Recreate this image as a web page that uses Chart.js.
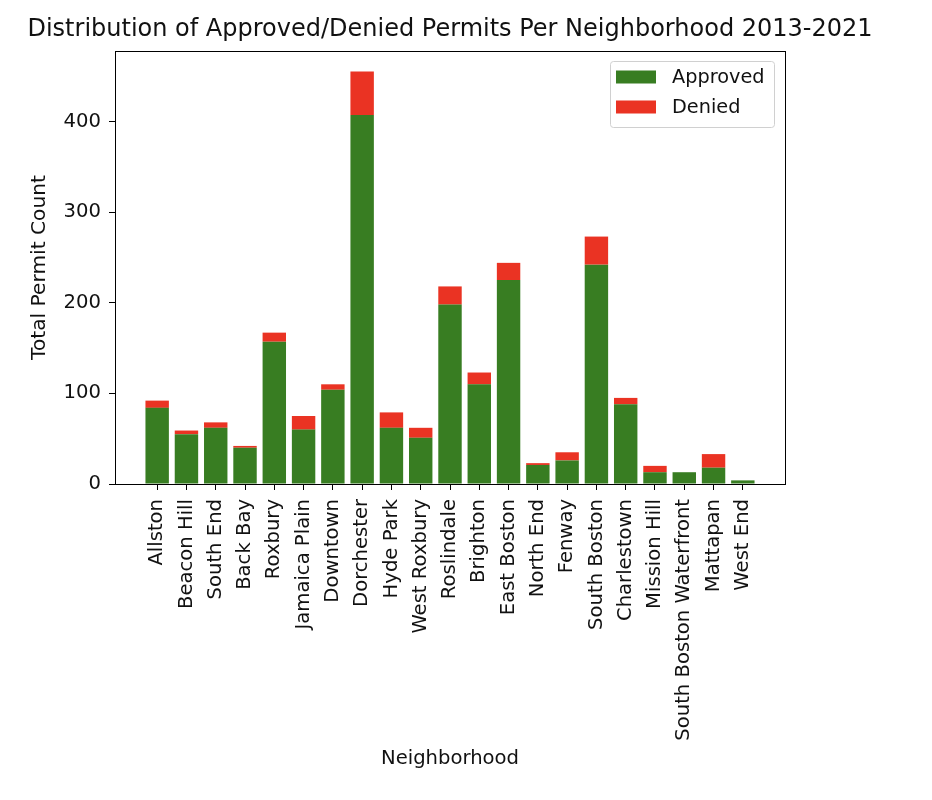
<!DOCTYPE html>
<html><head><meta charset="utf-8">
<script src="https://cdn.jsdelivr.net/npm/chart.js@4"></script>
<style>html,body{margin:0;padding:0;background:#fff}</style>
</head><body>
<canvas id="c" width="932" height="800"></canvas>
<script>
const neighborhoods = ["Allston","Beacon Hill","South End","Back Bay","Roxbury","Jamaica Plain","Downtown","Dorchester","Hyde Park","West Roxbury","Roslindale","Brighton","East Boston","North End","Fenway","South Boston","Charlestown","Mission Hill","South Boston Waterfront","Mattapan","West End"];
const approved = [84,55,62,40,157,60,104,407,62,51,198,110,225,21,26,242,88,13,13,18,4];
const denied   = [8,4,6,2,10,15,6,48,17,11,20,13,19,2,9,31,7,7,0,15,0];
const yTicks = [0,100,200,300,400];
const seriesLabels = ["Approved","Denied"];
const seriesColors = ["#387d22","#ea3323"];
const chartTitle = "Distribution of Approved/Denied Permits Per Neighborhood 2013-2021";

Chart.defaults.font.family = "'DejaVu Sans', sans-serif";
Chart.defaults.color = "#111";

const n = neighborhoods.length;
const maxTotal = Math.max(...approved.map((v,i)=>v+denied[i]));

const framePlugin = {
  id: 'frame',
  afterDraw(chart) {
    const {ctx, chartArea: a} = chart;
    ctx.save();
    // title centred over the axes
    ctx.font = "24px 'DejaVu Sans'";
    ctx.fillStyle = '#111';
    ctx.textAlign = 'center';
    ctx.textBaseline = 'middle';
    ctx.fillText(chartTitle, (a.left + a.right) / 2, a.top - 21);
    ctx.textAlign = 'left';
    // axes frame
    ctx.strokeStyle = '#000';
    ctx.lineWidth = 1;
    ctx.strokeRect(Math.round(a.left)+0.5, Math.round(a.top)+0.5, Math.round(a.right-a.left), Math.round(a.bottom-a.top));
    // legend
    const bx = a.right - 175, by = a.top + 10, bw = 164, bh = 66;
    ctx.fillStyle = 'rgba(255,255,255,0.8)';
    ctx.strokeStyle = '#d0d0d0';
    ctx.beginPath();
    ctx.roundRect(bx+0.5, by+0.5, bw, bh, 3);
    ctx.fill(); ctx.stroke();
    ctx.font = "19.3px 'DejaVu Sans'";
    ctx.textBaseline = 'middle';
    chart.data.datasets.forEach((ds, i) => {
      const y = by + 16 + i*30;
      ctx.fillStyle = ds.backgroundColor;
      ctx.fillRect(bx+6, y-6.5, 40, 13);
      ctx.fillStyle = '#111';
      ctx.fillText(ds.label, bx+62, y+1);
    });
    ctx.restore();
  }
};

new Chart(document.getElementById('c'), {
  type: 'bar',
  data: {
    datasets: [
      {label: seriesLabels[0], backgroundColor: seriesColors[0], data: approved.map((v,i)=>({x:i,y:v}))},
      {label: seriesLabels[1], backgroundColor: seriesColors[1], data: denied.map((v,i)=>({x:i,y:v}))}
    ]
  },
  options: {
    responsive: false,
    animation: false,
    devicePixelRatio: 1,
    layout: {padding: {left: 0, right: 147, top: 51, bottom: 0}},
    datasets: {bar: {barPercentage: 0.8, categoryPercentage: 1.0}},
    plugins: {
      legend: {display: false},
      tooltip: {enabled: false},
      title: {display: false}
    },
    scales: {
      x: {
        type: 'linear',
        stacked: true,
        offset: false,
        min: -0.4 - 0.05*(n-0.2),
        max: (n-1) + 0.4 + 0.05*(n-0.2),
        afterBuildTicks(scale) { scale.ticks = neighborhoods.map((_, i) => ({value: i})); },
        afterFit(scale) { scale.height = 316; },
        ticks: {
          autoSkip: false, maxRotation: 90, minRotation: 90, padding: 9,
          font: {size: 19.6},
          callback: (v) => neighborhoods[v] ?? ''
        },
        grid: {display: true, offset: false, drawOnChartArea: false, drawTicks: true, tickLength: 6, color: '#000'},
        border: {display: false},
        title: {display: true, text: 'Neighborhood', font: {size: 19.6}, padding: {top: 0, bottom: 29}}
      },
      y: {
        stacked: true,
        min: 0,
        max: maxTotal * 1.05,
        afterBuildTicks(scale) { scale.ticks = yTicks.map(v => ({value: v})); },
        afterFit(scale) { scale.width = 115; },
        ticks: {padding: 8, font: {size: 19.6}},
        grid: {display: true, drawOnChartArea: false, drawTicks: true, tickLength: 6, color: '#000'},
        border: {display: false},
        title: {display: true, text: 'Total Permit Count', font: {size: 20.2}, padding: {top: 28, bottom: 0}}
      }
    }
  },
  plugins: [framePlugin]
});
</script>
</body></html>
